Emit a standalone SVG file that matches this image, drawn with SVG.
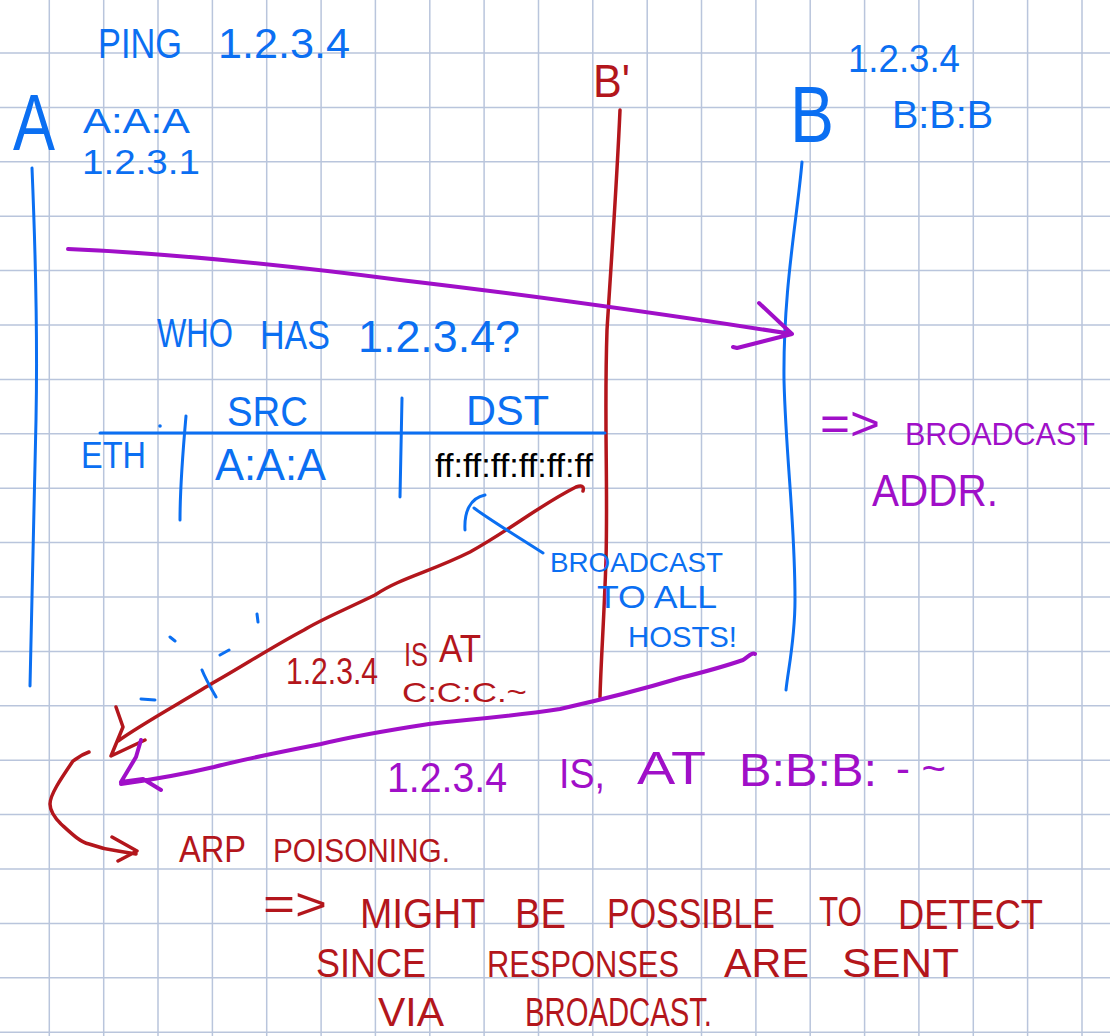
<svg xmlns="http://www.w3.org/2000/svg" width="1110" height="1036" viewBox="0 0 1110 1036">
<style>
text{font-family:"Liberation Sans",Arial,sans-serif}
.hb{fill:#0b6ff2}
.hp{fill:#a00fc8}
.hr{fill:#b3161c}
.k{fill:#000}
.sb,.sp,.sr{fill:none;stroke-linecap:round;stroke-linejoin:round}
.sb{stroke:#0b6ff2;stroke-width:3}
.sp{stroke:#a00fc8;stroke-width:4}
.sr{stroke:#b3161c;stroke-width:3.5}
.grid{stroke:#b9c5dc;stroke-width:1.5;fill:none}
</style>
<rect width="1110" height="1036" fill="#fff"/>
<path class="grid" d="M49.3,0V1036M103.7,0V1036M158,0V1036M212.4,0V1036M266.7,0V1036M321.1,0V1036M375.4,0V1036M429.8,0V1036M484.1,0V1036M538.5,0V1036M592.8,0V1036M647.2,0V1036M701.5,0V1036M755.9,0V1036M810.2,0V1036M864.6,0V1036M918.9,0V1036M973.3,0V1036M1027.6,0V1036M1082,0V1036M0,53H1110M0,107.4H1110M0,161.8H1110M0,216.2H1110M0,270.6H1110M0,325H1110M0,379.4H1110M0,433.8H1110M0,488.2H1110M0,542.6H1110M0,597H1110M0,651.4H1110M0,705.8H1110M0,760.2H1110M0,814.6H1110M0,869H1110M0,923.4H1110M0,977.8H1110M0,1032.2H1110"/>

<g id="connectors">
  <path id="lifeline-A" class="sb" d="M32,168 C35,240 38,320 36,420 C34,540 31,620 30,686"/>
  <path id="lifeline-B" class="sb" d="M802,162 C797,220 783,290 784,380 C786,460 795,520 795,600 C795,640 788,670 786,690"/>
  <path id="lifeline-Bprime" class="sr" d="M620,110 C617,180 612,250 607,330 C604,420 608,480 606,560 C604,620 601,660 600,697"/>
  <path id="arp-request" class="sp" d="M68,249 C160,253 260,262 400,280 C520,294 650,312 792,334 M759,303 L792,334 L737,348 L733,347"/>
  <path id="spoofed-reply" class="sr" d="M583,491 Q585,484 576,487 C540,505 510,530 470,552 C430,572 400,578 375,595 C340,612 320,620 304,630 C270,648 240,668 211,684 C180,703 140,725 118,741 M116,707 L123,727 L111,756 L145,740"/>
  <path id="real-reply" class="sp" d="M755,654 C752,652 748,657 743,660 C720,668 700,673 680,678 C640,690 600,700 560,709 C500,718 460,720 429,724 C390,730 350,737 321,744 C280,752 240,760 214,767 C180,775 150,780 121,784 M141,740 L136,757 L121,782 L143,779 L161,790"/>
  <path id="arp-poisoning-pointer" class="sr" d="M89,752 C80,755 75,760 73,761 C60,780 50,795 50,804 C50,812 55,818 61,824 C72,834 80,842 89,844 C100,848 110,850 118,851 L136,854 M112,837 L137,851 L118,861"/>
  <path id="broadcast-pointer" class="sb" d="M465,530 C464,512 470,498 485,495 M474,508 C490,520 515,535 543,553"/>
  <path id="ticks" class="sb" d="M170,637 L175,641 M257,614 L258,622 M220,655 L229,650 M202,670 C206,680 212,690 216,697 M141,699 L155,700"/>
</g>

<g id="title">
  <text class="hb" x="98" y="58" font-size="43" textLength="84" lengthAdjust="spacingAndGlyphs">PING</text>
  <text class="hb" x="218" y="58" font-size="43" textLength="132" lengthAdjust="spacingAndGlyphs">1.2.3.4</text>
</g>

<g id="node-A">
  <text class="hb" x="13" y="150" font-size="80" textLength="42" lengthAdjust="spacingAndGlyphs">A</text>
  <text class="hb" x="83" y="133" font-size="35" textLength="107" lengthAdjust="spacingAndGlyphs">A:A:A</text>
  <text class="hb" x="82" y="174" font-size="35" textLength="118" lengthAdjust="spacingAndGlyphs">1.2.3.1</text>
</g>

<g id="node-Bprime">
  <text class="hr" x="593" y="97" font-size="46" textLength="37" lengthAdjust="spacingAndGlyphs">B'</text>
</g>

<g id="node-B">
  <text class="hb" x="790" y="142" font-size="80" textLength="44" lengthAdjust="spacingAndGlyphs">B</text>
  <text class="hb" x="848" y="72" font-size="38" textLength="112" lengthAdjust="spacingAndGlyphs">1.2.3.4</text>
  <text class="hb" x="892" y="128" font-size="39.5" textLength="101" lengthAdjust="spacingAndGlyphs">B:B:B</text>
</g>

<g id="query">
  <text class="hb" x="157" y="347" font-size="40" textLength="76" lengthAdjust="spacingAndGlyphs">WHO</text>
  <text class="hb" x="260" y="349" font-size="40" textLength="70" lengthAdjust="spacingAndGlyphs">HAS</text>
  <text class="hb" x="358" y="352" font-size="44" textLength="162" lengthAdjust="spacingAndGlyphs">1.2.3.4?</text>
</g>

<g id="eth-frame">
  <path class="sb" d="M100,433 L605,433 M186,416 C183,450 180,490 180,520 M402,398 L400,497"/>
  <circle cx="160" cy="426" r="1.8" class="hb"/>
  <text class="hb" x="227" y="426" font-size="42" textLength="81" lengthAdjust="spacingAndGlyphs">SRC</text>
  <text class="hb" x="466" y="425" font-size="42" textLength="83" lengthAdjust="spacingAndGlyphs">DST</text>
  <text class="hb" x="81" y="468" font-size="36" textLength="65" lengthAdjust="spacingAndGlyphs">ETH</text>
  <text class="hb" x="215" y="480" font-size="44" textLength="111" lengthAdjust="spacingAndGlyphs">A:A:A</text>
  <text class="k" x="435" y="477" font-size="33.5" textLength="158" lengthAdjust="spacingAndGlyphs">ff:ff:ff:ff:ff:ff</text>
</g>

<g id="note-broadcast-addr">
  <text class="hp" x="820" y="440" font-size="48" textLength="60" lengthAdjust="spacingAndGlyphs">=&gt;</text>
  <text class="hp" x="905" y="445" font-size="30.5" textLength="190" lengthAdjust="spacingAndGlyphs">BROADCAST</text>
  <text class="hp" x="872" y="506" font-size="44" textLength="126" lengthAdjust="spacingAndGlyphs">ADDR.</text>
</g>

<g id="note-broadcast-all">
  <text class="hb" x="550" y="572" font-size="28" textLength="173" lengthAdjust="spacingAndGlyphs">BROADCAST</text>
  <text class="hb" x="597" y="608" font-size="32" textLength="120" lengthAdjust="spacingAndGlyphs">TO ALL</text>
  <text class="hb" x="628" y="647" font-size="29" textLength="109" lengthAdjust="spacingAndGlyphs">HOSTS!</text>
</g>

<g id="label-spoofed-reply">
  <text class="hr" x="286" y="684" font-size="37" textLength="92" lengthAdjust="spacingAndGlyphs">1.2.3.4</text>
  <text class="hr" x="404" y="666" font-size="34" textLength="24" lengthAdjust="spacingAndGlyphs">IS</text>
  <text class="hr" x="439" y="662" font-size="38" textLength="42" lengthAdjust="spacingAndGlyphs">AT</text>
  <text class="hr" x="402" y="702" font-size="28" textLength="125" lengthAdjust="spacingAndGlyphs">C:C:C.~</text>
</g>

<g id="label-real-reply">
  <text class="hp" x="387" y="792" font-size="42" textLength="120" lengthAdjust="spacingAndGlyphs">1.2.3.4</text>
  <text class="hp" x="559" y="788" font-size="42" textLength="46" lengthAdjust="spacingAndGlyphs">IS,</text>
  <text class="hp" x="637" y="784" font-size="46" textLength="69" lengthAdjust="spacingAndGlyphs">AT</text>
  <text class="hp" x="739" y="786" font-size="46" textLength="138" lengthAdjust="spacingAndGlyphs">B:B:B:</text>
  <text class="hp" x="896" y="782" font-size="40" textLength="50" lengthAdjust="spacingAndGlyphs">- ~</text>
</g>

<g id="note-arp-poisoning">
  <text class="hr" x="179" y="862" font-size="36" textLength="67" lengthAdjust="spacingAndGlyphs">ARP</text>
  <text class="hr" x="273" y="862" font-size="34" textLength="177" lengthAdjust="spacingAndGlyphs">POISONING.</text>
</g>

<g id="note-detect">
  <text class="hr" x="263" y="920" font-size="46" textLength="64" lengthAdjust="spacingAndGlyphs">=&gt;</text>
  <text class="hr" x="360" y="928" font-size="42" textLength="125" lengthAdjust="spacingAndGlyphs">MIGHT</text>
  <text class="hr" x="515" y="928" font-size="42" textLength="51" lengthAdjust="spacingAndGlyphs">BE</text>
  <text class="hr" x="607" y="928" font-size="42" textLength="168" lengthAdjust="spacingAndGlyphs">POSSIBLE</text>
  <text class="hr" x="819" y="926" font-size="42" textLength="43" lengthAdjust="spacingAndGlyphs">TO</text>
  <text class="hr" x="898" y="929" font-size="42" textLength="145" lengthAdjust="spacingAndGlyphs">DETECT</text>
  <text class="hr" x="316" y="977" font-size="40" textLength="110" lengthAdjust="spacingAndGlyphs">SINCE</text>
  <text class="hr" x="487" y="977" font-size="37.5" textLength="192" lengthAdjust="spacingAndGlyphs">RESPONSES</text>
  <text class="hr" x="724" y="977" font-size="40" textLength="85" lengthAdjust="spacingAndGlyphs">ARE</text>
  <text class="hr" x="842" y="977" font-size="40" textLength="117" lengthAdjust="spacingAndGlyphs">SENT</text>
  <text class="hr" x="378" y="1026" font-size="40" textLength="66" lengthAdjust="spacingAndGlyphs">VIA</text>
  <text class="hr" x="525" y="1026" font-size="40" textLength="187" lengthAdjust="spacingAndGlyphs">BROADCAST.</text>
</g>
</svg>
